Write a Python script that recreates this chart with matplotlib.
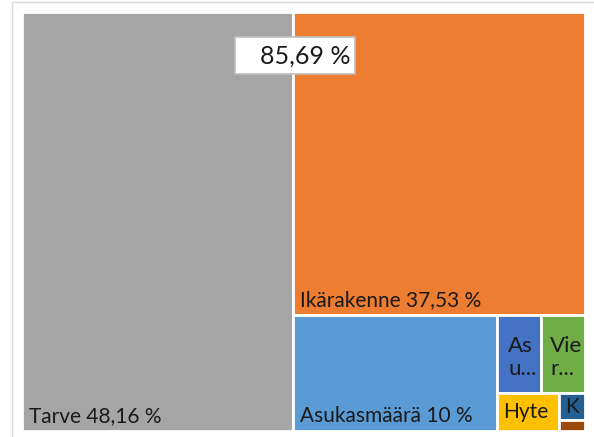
import matplotlib
matplotlib.use("Agg")
import matplotlib.pyplot as plt
from matplotlib.patches import Rectangle

# treemap data (percent)
names = ["Tarve", "Ikärakenne", "Asukasmäärä", "Asu", "Vier", "Hyte", "K", "Muu"]
values = [48.16, 37.53, 10.0, 1.45, 1.44, 1.0, 0.3, 0.12]
labels = ["Tarve 48,16 %", "Ikärakenne 37,53 %", "Asukasmäärä 10 %",
          "As\nu...", "Vie\nr...", "Hyte", "K", ""]
colors = ["#A5A5A5", "#ED7D31", "#5B9BD5", "#4472C4", "#70AD47",
          "#FFC000", "#255E91", "#9E480E"]
callout = "85,69 %"

plt.rcParams['font.family'] = ['Lato', 'DejaVu Sans']


def worst(row, side):
    s = sum(row)
    return max(max(side**2 * r / s**2, s**2 / (side**2 * r)) for r in row)


def squarify(areas, x, y, w, h):
    rects = []
    vals = list(areas)
    while vals:
        short = min(w, h)
        row = [vals[0]]
        i = 1
        while i < len(vals) and worst(row + [vals[i]], short) <= worst(row, short):
            row.append(vals[i])
            i += 1
        vals = vals[i:]
        s = sum(row)
        if w >= h:
            rw = s / h
            yy = y
            for v in row:
                rects.append((x, yy, rw, v / rw))
                yy += v / rw
            x += rw
            w -= rw
        else:
            rh = s / w
            xx = x
            for v in row:
                rects.append((xx, y, v / rh, rh))
                xx += v / rh
            y += rh
            h -= rh
    return rects


fig = plt.figure(figsize=(5.94, 4.37), dpi=100)
# chart frame
fig.patches.append(Rectangle((12 / 594, -0.1), 1.0, 1.1 - 2 / 437, transform=fig.transFigure,
                             fill=False, edgecolor="#d9d9d9", linewidth=1.0))

ax = fig.add_axes([22 / 594, 6 / 437, 563 / 594, 419 / 437])
W, H = 563.0, 419.0
total = sum(values)
areas = [v / total * W * H for v in values]
rects = squarify(areas, 0, 0, W, H)

for (x, y, w, h), c in zip(rects, colors):
    ax.add_patch(Rectangle((x, y), w, h, facecolor=c, edgecolor="white", linewidth=2))

tc = "#1a1a1a"
for i, ((x, y, w, h), lab) in enumerate(zip(rects, labels)):
    if not lab:
        continue
    if i < 3:
        ax.text(x + 7, y + h - 9, lab, ha="left", va="baseline", fontsize=15, color=tc)
    elif i < 5:
        ax.text(x + w / 2 + 3, y + h / 2 + 3, lab, ha="center", va="center",
                multialignment="left", fontsize=16, color=tc, linespacing=1.2)
    else:
        ax.text(x + 6, y + h / 2, lab, ha="left", va="center", fontsize=15, color=tc)

# callout label for the two largest
ax.add_patch(Rectangle((213, 25), 120, 37, facecolor="white", edgecolor="#bfbfbf",
                       linewidth=1.2, zorder=3))
ax.text(328, 44, callout, ha="right", va="center", fontsize=18, color=tc, zorder=4)

ax.set_xlim(0, W)
ax.set_ylim(H, 0)
ax.axis("off")

fig.savefig("out.png", dpi=100)
